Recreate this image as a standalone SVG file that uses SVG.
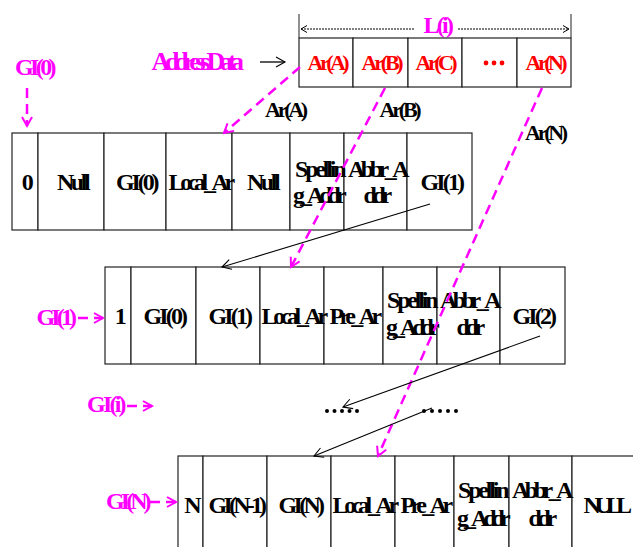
<svg xmlns="http://www.w3.org/2000/svg" width="633" height="547" viewBox="0 0 633 547">
  <style>
    .cell { fill: #fff; stroke: #222; stroke-width: 1.2; }
    .t { font-family: "Liberation Serif", "Times New Roman", serif; font-weight: bold; text-anchor: middle; }
    .ct { font-size: 24px; letter-spacing: -3.6px; fill: #000; }
    .red { font-size: 22px; letter-spacing: -3.2px; fill: #ff0000; }
    .mag { font-size: 24px; letter-spacing: -3.6px; fill: #ff00ff; }
    .lbl { font-size: 22px; letter-spacing: -3.2px; fill: #000; }
    .dash { fill: none; stroke: #ff00ff; stroke-width: 2.5; stroke-dasharray: 10 6; }
    .thin { fill: none; stroke: #000; stroke-width: 1.1; }
  </style>
  <defs>
    <marker id="mHead" markerUnits="userSpaceOnUse" markerWidth="14" markerHeight="14" refX="10" refY="6" orient="auto">
      <path d="M1,1 L10,6 L1,11" fill="none" stroke="#ff00ff" stroke-width="2"/>
    </marker>
    <marker id="kHead" markerUnits="userSpaceOnUse" markerWidth="14" markerHeight="14" refX="10" refY="6" orient="auto">
      <path d="M1,1 L10,6 L1,11" fill="none" stroke="#000" stroke-width="1.1"/>
    </marker>
    <marker id="dHead" markerUnits="userSpaceOnUse" markerWidth="10" markerHeight="10" refX="7" refY="4" orient="auto-start-reverse">
      <path d="M1,0.5 L7,4 L1,7.5" fill="none" stroke="#000" stroke-width="1"/>
    </marker>
  </defs>

  <!-- address data array L(i) -->
  <g id="addr-array">
    <line x1="299" y1="14" x2="299" y2="38" stroke="#222" stroke-width="1"/>
    <line x1="571" y1="14" x2="571" y2="38" stroke="#222" stroke-width="1"/>
    <line x1="301" y1="29" x2="414" y2="29" stroke="#000" stroke-width="1.2" stroke-dasharray="2 1" marker-start="url(#dHead)"/>
    <line x1="458" y1="29" x2="569" y2="29" stroke="#000" stroke-width="1.2" stroke-dasharray="2 1" marker-end="url(#dHead)"/>
    <text class="t mag" x="437" y="33" textLength="27">L(i)</text>
    <rect class="cell" x="299" y="38" width="54" height="49"/>
    <rect class="cell" x="353" y="38" width="55" height="49"/>
    <rect class="cell" x="408" y="38" width="54" height="49"/>
    <rect class="cell" x="462" y="38" width="55" height="49"/>
    <rect class="cell" x="517" y="38" width="54" height="49"/>
    <text class="t red" x="327" y="70" textLength="39">Ar(A)</text>
    <text class="t red" x="381" y="70" textLength="39">Ar(B)</text>
    <text class="t red" x="435" y="70" textLength="39">Ar(C)</text>
    <g fill="#ff0000">
      <circle cx="486" cy="63" r="2.4"/>
      <circle cx="494" cy="63" r="2.4"/>
      <circle cx="502" cy="63" r="2.4"/>
    </g>
    <text class="t red" x="545" y="70" textLength="39">Ar(N)</text>
  </g>

  <g id="address-data-label">
    <text class="t mag" x="196" y="70" style="font-size:26px" textLength="89">Address Data</text>
    <line x1="260" y1="62" x2="285" y2="62" stroke="#000" stroke-width="1.3" marker-end="url(#kHead)"/>
  </g>

  <!-- row GI(0) -->
  <g id="row-gi0">
    <rect class="cell" x="12" y="133" width="26" height="97"/>
    <rect class="cell" x="38" y="133" width="66" height="97"/>
    <rect class="cell" x="104" y="133" width="62" height="97"/>
    <rect class="cell" x="166" y="133" width="66" height="97"/>
    <rect class="cell" x="232" y="133" width="58" height="97"/>
    <rect class="cell" x="290" y="133" width="54" height="97"/>
    <rect class="cell" x="344" y="133" width="63" height="97"/>
    <rect class="cell" x="407" y="133" width="65" height="97"/>
    <text class="t ct" x="26" y="190">0</text>
    <text class="t ct" x="72" y="190" textLength="30">Null</text>
    <text class="t ct" x="136" y="190" textLength="40">GI(0)</text>
    <text class="t ct" x="200" y="190" textLength="63">Local_Ar</text>
    <text class="t ct" x="262" y="190" textLength="30">Null</text>
    <text class="t ct" x="319" y="177" textLength="48">Spellin</text>
    <text class="t ct" x="318" y="203" textLength="50">g_Addr</text>
    <text class="t ct" x="377" y="177" textLength="58">Abbr_A</text>
    <text class="t ct" x="376" y="203" textLength="25">ddr</text>
    <text class="t ct" x="441" y="190" textLength="41">GI(1)</text>
  </g>

  <!-- row GI(1) -->
  <g id="row-gi1">
    <rect class="cell" x="105" y="267" width="26" height="97"/>
    <rect class="cell" x="131" y="267" width="65" height="97"/>
    <rect class="cell" x="196" y="267" width="64" height="97"/>
    <rect class="cell" x="260" y="267" width="64" height="97"/>
    <rect class="cell" x="324" y="267" width="59" height="97"/>
    <rect class="cell" x="383" y="267" width="54" height="97"/>
    <rect class="cell" x="437" y="267" width="63" height="97"/>
    <rect class="cell" x="500" y="267" width="65" height="97"/>
    <text class="t ct" x="119" y="324">1</text>
    <text class="t ct" x="164" y="324" textLength="41">GI(0)</text>
    <text class="t ct" x="229" y="324" textLength="41">GI(1)</text>
    <text class="t ct" x="293" y="324" textLength="63">Local_Ar</text>
    <text class="t ct" x="354" y="324" textLength="49">Pre_Ar</text>
    <text class="t ct" x="411" y="308" textLength="48">Spellin</text>
    <text class="t ct" x="411" y="335" textLength="50">g_Addr</text>
    <text class="t ct" x="469" y="308" textLength="58">Abbr_A</text>
    <text class="t ct" x="469" y="335" textLength="25">ddr</text>
    <text class="t ct" x="533" y="324" textLength="41">GI(2)</text>
  </g>

  <!-- row GI(N) -->
  <g id="row-gin">
    <rect class="cell" x="178" y="456" width="25" height="104"/>
    <rect class="cell" x="203" y="456" width="64" height="104"/>
    <rect class="cell" x="267" y="456" width="64" height="104"/>
    <rect class="cell" x="331" y="456" width="64" height="104"/>
    <rect class="cell" x="395" y="456" width="59" height="104"/>
    <rect class="cell" x="454" y="456" width="55" height="104"/>
    <rect class="cell" x="509" y="456" width="63" height="104"/>
    <rect class="cell" x="572" y="456" width="64" height="104"/>
    <text class="t ct" x="191" y="513">N</text>
    <text class="t ct" x="236" y="513" textLength="55">GI(N-1)</text>
    <text class="t ct" x="300" y="513" textLength="43">GI(N)</text>
    <text class="t ct" x="364" y="513" textLength="63">Local_Ar</text>
    <text class="t ct" x="425" y="513" textLength="49">Pre_Ar</text>
    <text class="t ct" x="482" y="498" textLength="48">Spellin</text>
    <text class="t ct" x="482" y="526" textLength="50">g_Addr</text>
    <text class="t ct" x="541" y="498" textLength="58">Abbr_A</text>
    <text class="t ct" x="541" y="526" textLength="25">ddr</text>
    <text class="t ct" x="606" y="513" textLength="45">NULL</text>
  </g>

  <!-- row pointer labels -->
  <g id="label-gi0">
    <text class="t mag" x="34" y="75" textLength="38">GI(0)</text>
    <line class="dash" x1="27" y1="88" x2="27" y2="126" marker-end="url(#mHead)"/>
  </g>
  <g id="label-gi1">
    <text class="t mag" x="55" y="325" textLength="37">GI(1)</text>
    <line class="dash" x1="78" y1="318" x2="103" y2="318" marker-end="url(#mHead)"/>
  </g>
  <g id="label-gii">
    <text class="t mag" x="105" y="412" textLength="36">GI(i)</text>
    <line class="dash" x1="127" y1="406" x2="152" y2="406" marker-end="url(#mHead)"/>
  </g>
  <g id="label-gin">
    <text class="t mag" x="127" y="509" textLength="42">GI(N)</text>
    <line class="dash" x1="150" y1="502" x2="176" y2="502" marker-end="url(#mHead)"/>
  </g>

  <!-- address labels along the pointers -->
  <g id="ptr-labels">
    <text class="t lbl" x="285" y="117" textLength="40">Ar(A)</text>
    <text class="t lbl" x="399" y="117" textLength="39">Ar(B)</text>
    <text class="t lbl" x="545" y="140" textLength="40">Ar(N)</text>
  </g>

  <!-- ellipsis between rows -->
  <g id="gap-dots" fill="#000">
    <circle cx="327" cy="411" r="2"/><circle cx="334.5" cy="411" r="2"/><circle cx="342" cy="411" r="2"/><circle cx="349.5" cy="411" r="2"/><circle cx="357" cy="411" r="2"/>
    <circle cx="424" cy="411" r="2"/><circle cx="432" cy="411" r="2"/><circle cx="440" cy="411" r="2"/><circle cx="448" cy="411" r="2"/><circle cx="456" cy="411" r="2"/>
  </g>

  <!-- connectors -->
  <g id="connectors">
    <line class="dash" x1="300" y1="67" x2="224" y2="133" marker-end="url(#mHead)"/>
    <line class="dash" x1="385" y1="88" x2="291" y2="267" marker-end="url(#mHead)"/>
    <line class="dash" x1="542" y1="88" x2="378" y2="456" marker-end="url(#mHead)"/>
    <line class="thin" x1="430" y1="204" x2="222" y2="267" marker-end="url(#kHead)"/>
    <line class="thin" x1="540" y1="336" x2="343" y2="407" marker-end="url(#kHead)"/>
    <line class="thin" x1="432" y1="408" x2="314" y2="456" marker-end="url(#kHead)"/>
  </g>
</svg>
